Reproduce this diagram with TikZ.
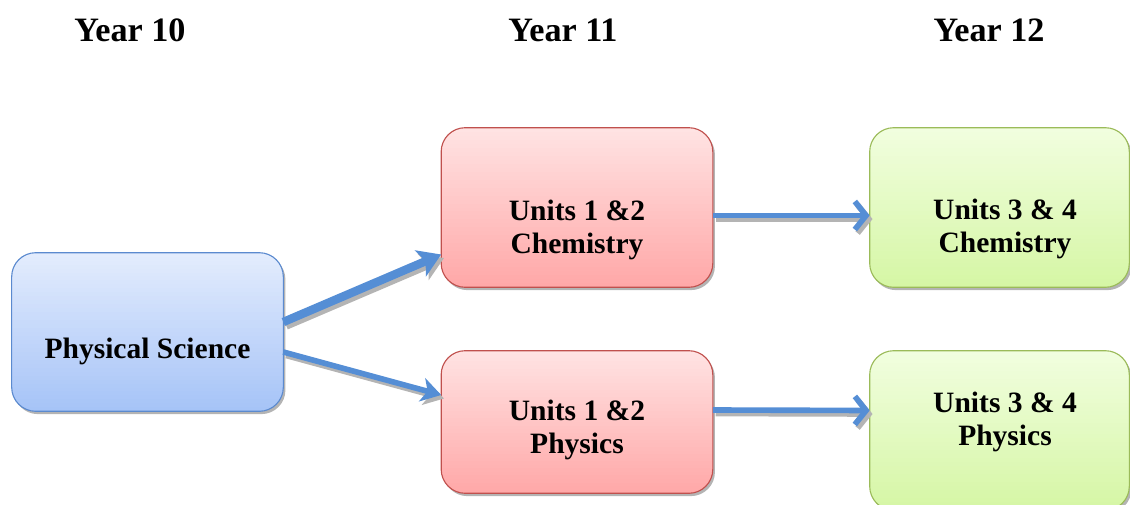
\documentclass[tikz,border=0pt]{standalone}
\usepackage{xcolor}
\usepackage{fontspec}
\setmainfont{Liberation Serif}
\usepackage{tikz}
\usetikzlibrary{arrows.meta,positioning,calc}
\definecolor{psTop}{HTML}{E3ECFD}
\definecolor{psBot}{HTML}{A5C3F7}
\definecolor{psLine}{HTML}{5B8ACF}
\definecolor{unTop}{HTML}{FFE3E3}
\definecolor{unBot}{HTML}{FFA7A7}
\definecolor{unLine}{HTML}{C0504D}
\definecolor{fnTop}{HTML}{F1FEDF}
\definecolor{fnBot}{HTML}{D5F6A4}
\definecolor{fnLine}{HTML}{9BBB59}
\definecolor{flowBlue}{HTML}{558ED5}
\definecolor{shadeK}{HTML}{B4B4B4}
\definecolor{inkK}{HTML}{000000}

% shadow, gradient fill and border of a box: name, top colour, bottom colour, line colour
\newcommand{\gradbox}[4]{%
  \fill[shadeK, rounded corners=0.6cm] ([shift={(1.5pt,-2pt)}]#1.south west)
    rectangle ([shift={(1.5pt,-2pt)}]#1.north east);
  \begin{scope}
    \clip[rounded corners=0.6cm] (#1.south west) rectangle (#1.north east);
    \foreach \k in {0,...,39}{
      \pgfmathtruncatemacro{\mixp}{100-2.5*\k}
      \fill[#2!\mixp!#3] ($(#1.north west)!{\k/40}!(#1.south west)$)
        rectangle ($(#1.north east)!{(\k+1.1)/40}!(#1.south east)$);
    }
  \end{scope}
  \draw[#4, line width=0.8pt, rounded corners=0.6cm] (#1.south west) rectangle (#1.north east);}

\tikzset{
  stage/.style={minimum width=6.775cm, inner sep=0pt},
  wide/.style={stage, minimum width=6.475cm},
  boxtext/.style={font=\fontsize{21}{23.5}\selectfont\bfseries, text=inkK},
  yeartext/.style={font=\fontsize{24.3}{28}\selectfont\bfseries, text=inkK},
  flow/.style={draw=flowBlue, line width=4pt},
  bigflow/.style={flow, line width=6pt},
}

\begin{document}
\begin{tikzpicture}[x=0.025cm, y=-0.025cm]
  \useasboundingbox (0,0) rectangle (1130,505);

  \node[yeartext] (y10) at (130,30) {Year 10};
  \node[yeartext] (y11) at (563,30) {Year 11};
  \node[yeartext] (y12) at (989,30) {Year 12};

  \node[stage, minimum height=3.95cm] (phys) at (147.5,332) {};
  \node[stage, minimum height=3.975cm] (chem12) at (577,207.5) {};
  \node[stage, minimum height=3.55cm] (phys12) at (577,422) {};
  \node[wide, minimum height=3.975cm] (chem34) at (999.5,207.5) {};
  \node[wide, minimum height=3.975cm] (phys34) at (999.5,430.5) {};

  \gradbox{phys}{psTop}{psBot}{psLine}
  \gradbox{chem12}{unTop}{unBot}{unLine}
  \gradbox{phys12}{unTop}{unBot}{unLine}
  \gradbox{chem34}{fnTop}{fnBot}{fnLine}
  \gradbox{phys34}{fnTop}{fnBot}{fnLine}

  \node[boxtext] (phys-t) at ($(phys)+(0,19)$) {Physical Science};
  \node[boxtext, align=center] (chem12-t) at ($(chem12)+(0,22)$) {Units 1 \&2\\Chemistry};
  \node[boxtext, align=center] (phys12-t) at ($(phys12)+(0,8)$) {Units 1 \&2\\Physics};
  \node[boxtext, align=center] (chem34-t) at ($(chem34)+(5.5,21)$) {Units 3 \& 4\\Chemistry};
  \node[boxtext, align=center] (phys34-t) at ($(phys34)+(5.5,-9)$) {Units 3 \& 4\\Physics};

  \coordinate (psA) at ($(phys.east)+(0,-10)$);
  \coordinate (psB) at ($(phys.east)+(0,20)$);
  \coordinate (c12in) at ($(chem12.west)+(0,47)$);
  \coordinate (p12in) at ($(phys12.west)+(0,-27)$);
  \coordinate (c12out) at ($(chem12.east)+(0,8)$);
  \coordinate (p12out) at ($(phys12.east)+(0,-12)$);
  \coordinate (c34in) at ($(chem34.west)+(0,8)$);
  \coordinate (p34in) at ($(phys34.west)+(0,-20)$);

  \begin{scope}[transform canvas={xshift=2pt, yshift=-2.5pt}, flow/.append style={draw=shadeK}]
    \draw[bigflow, -{Stealth[length=16pt, width=20pt, inset=4pt]}] (psA) -- (c12in);
    \draw[flow, -{Stealth[length=14pt, width=17pt, inset=4pt]}] (psB) -- (p12in);
    \draw[flow, -{Straight Barb[length=8pt, width=20pt]}] (c12out) -- (c34in);
    \draw[flow, -{Straight Barb[length=8pt, width=20pt]}] (p12out) -- (p34in);
  \end{scope}
  \draw[bigflow, -{Stealth[length=16pt, width=20pt, inset=4pt]}] (psA) -- (c12in);
  \draw[flow, -{Stealth[length=14pt, width=17pt, inset=4pt]}] (psB) -- (p12in);
  \draw[flow, -{Straight Barb[length=8pt, width=20pt]}] (c12out) -- (c34in);
  \draw[flow, -{Straight Barb[length=8pt, width=20pt]}] (p12out) -- (p34in);
\end{tikzpicture}
\end{document}
